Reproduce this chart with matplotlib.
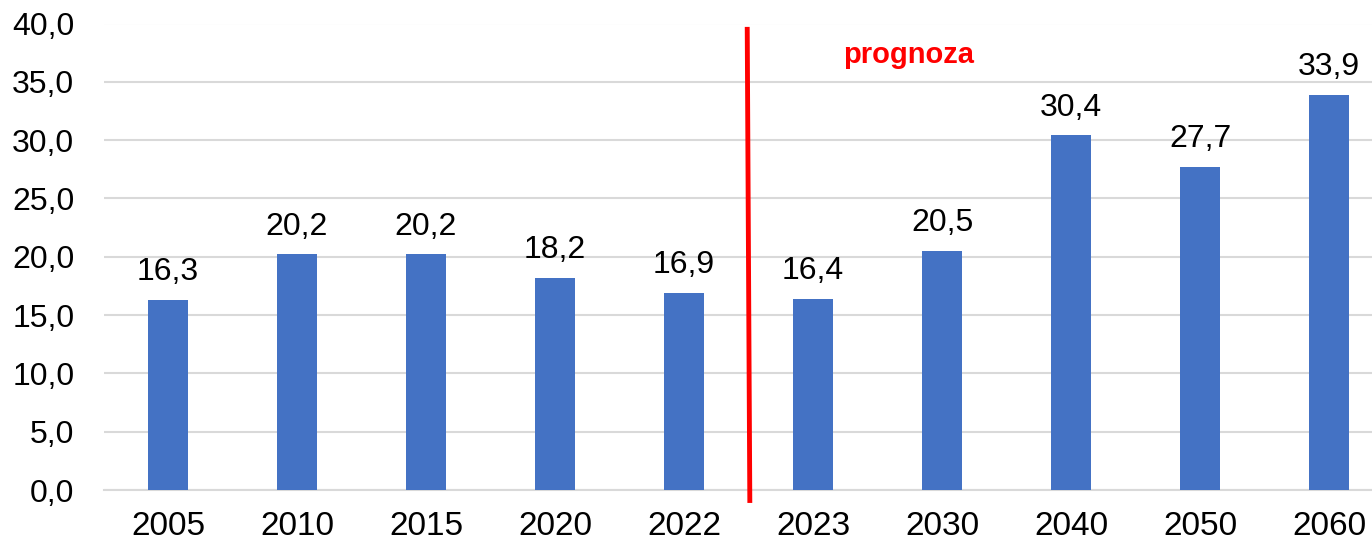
import numpy as np
import matplotlib.pyplot as plt

plt.rcParams['font.family'] = ['Liberation Sans', 'DejaVu Sans']

years = ['2005', '2010', '2015', '2020', '2022', '2023', '2030', '2040', '2050', '2060']
values = [16.3, 20.2, 20.2, 18.2, 16.9, 16.4, 20.5, 30.4, 27.7, 33.9]
yticks = [0, 5, 10, 15, 20, 25, 30, 35, 40]

fig = plt.figure(figsize=(13.72, 5.44), dpi=100)
ax = fig.add_axes([103.5 / 1372, 1 - 490 / 544, 1 - 103.5 / 1372, (490 - 23.5) / 544])

x = np.arange(len(years))
bars = ax.bar(x, values, width=0.31, color='#4472C4', zorder=3)
ax.bar_label(bars, labels=[f'{v:.1f}'.replace('.', ',') for v in values],
             padding=9, fontsize=23, color='black')

ax.set_xlim(-0.5, 9.333)
ax.set_ylim(0, 40)
ax.set_xticks(x)
ax.set_xticklabels(years)
ax.set_yticks(yticks)
ax.set_yticklabels([f'{v:.1f}'.replace('.', ',') for v in yticks])
ax.tick_params(axis='y', length=0, pad=21, labelsize=23)
ax.tick_params(axis='x', length=0, pad=15, labelsize=24)

ax.grid(axis='y', color='#d9d9d9', linewidth=1.5, zorder=0)
for s in ['left', 'right', 'top']:
    ax.spines[s].set_visible(False)
ax.spines['bottom'].set_color('#d9d9d9')
ax.spines['bottom'].set_linewidth(1.5)

# forecast divider
ax.plot([4.49, 4.51], [39.5, -0.9], color='red', linewidth=3.5, clip_on=False, zorder=4)
ax.text(5.74, 37.3, 'prognoza', color='red', fontsize=21, fontweight='bold',
        ha='center', va='center')

plt.savefig('out.png', dpi=100)
